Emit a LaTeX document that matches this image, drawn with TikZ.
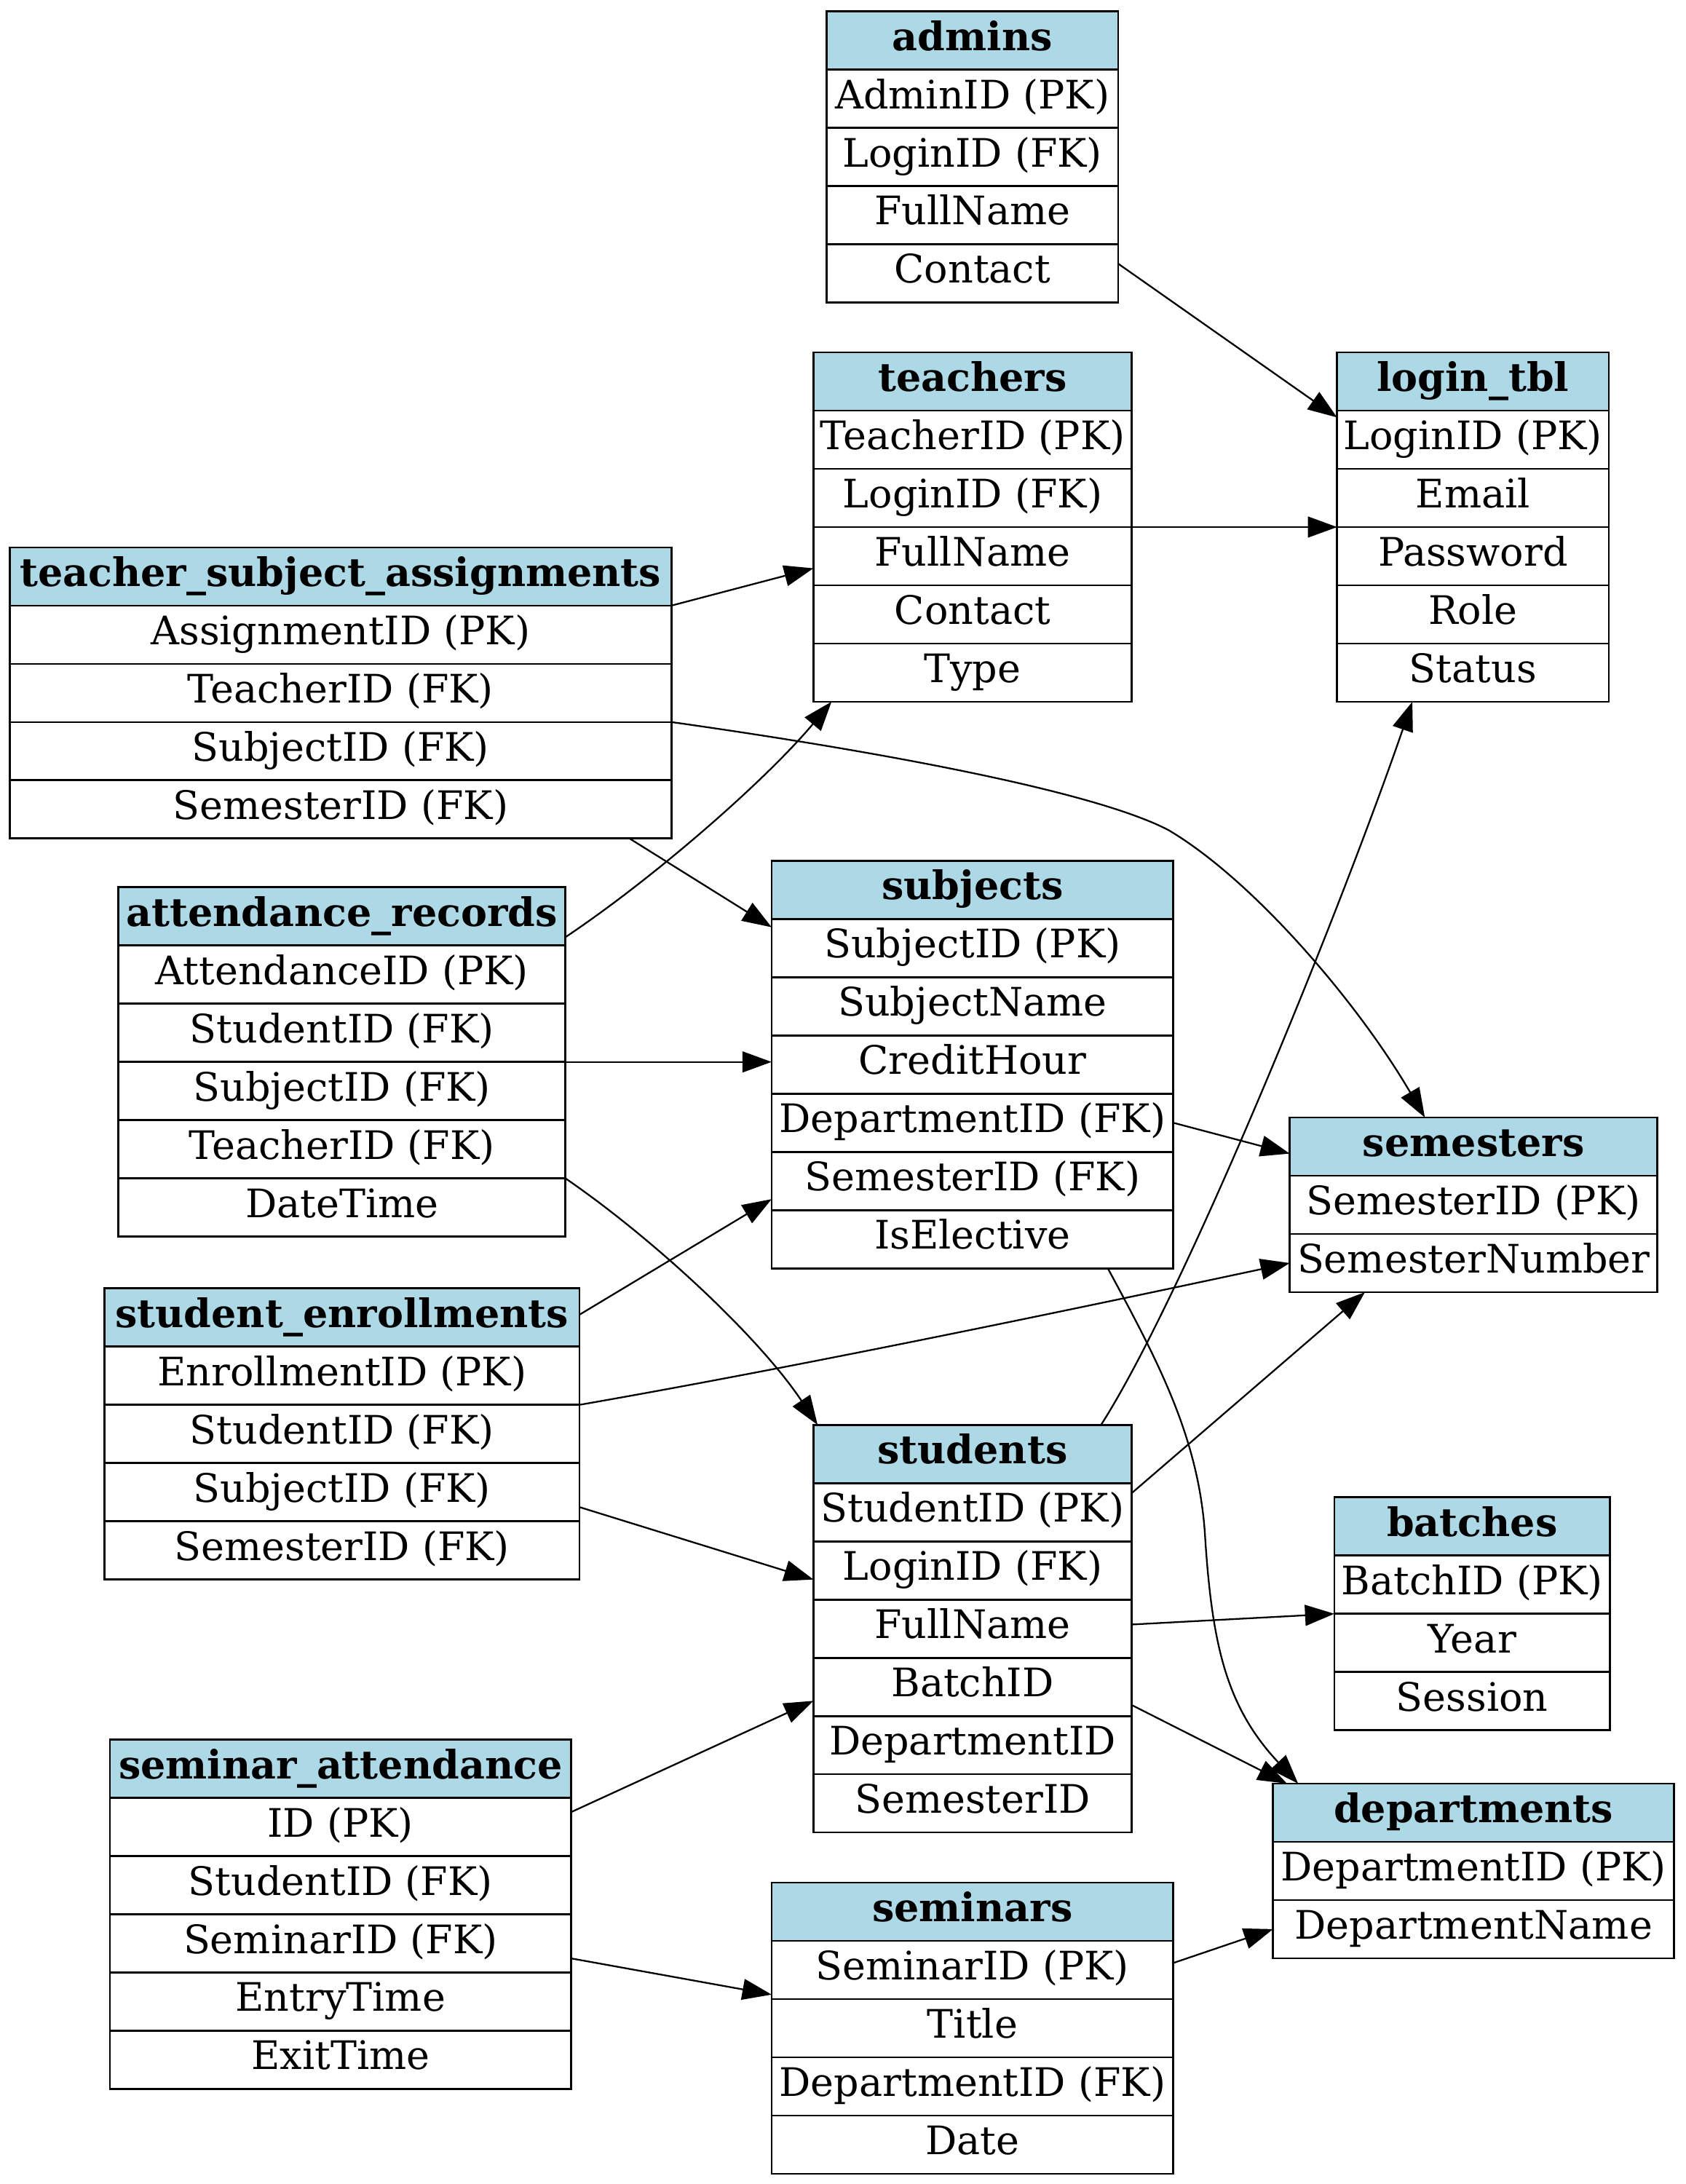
\documentclass[tikz,border=0pt]{standalone}
\usepackage{fontspec}
\setmainfont{DejaVu Serif}
\usetikzlibrary{arrows.meta,calc}
\definecolor{hdrblue}{HTML}{ADD8E6}
\newcommand\rowh{41.8}
\newcommand\ertab[6]{%
  \pgfmathsetmacro\tabw{#3-#2}%
  \node[hcell, minimum width=\tabw pt] (#1) at (#2,#4) {#5};%
  \foreach \r [count=\i] in {#6} {%
    \node[cell, minimum width=\tabw pt] (#1-\i) at (#2,{#4+\i*\rowh}) {\r};%
  }%
}
\tikzset{
  cell/.style={draw, line width=1.4pt, minimum height=41.8pt, inner sep=0pt, outer sep=0pt,
    anchor=north west, font=\fontsize{28.2}{33}\selectfont, text height=20.3pt, text depth=6.3pt},
  hcell/.style={cell, fill=hdrblue, font=\fontsize{28.2}{33}\selectfont\bfseries},
  fk/.style={draw, line width=1.2pt, -{Triangle[length=21pt,width=15pt]}}
}
\begin{document}
\begin{tikzpicture}[x=1pt,y=-1pt]
\useasboundingbox (0,0) rectangle (1210,1568);
\ertab{admins}{593.5}{802.8}{8.2}{admins}{AdminID (PK),LoginID (FK),FullName,Contact}
\ertab{teachers}{584}{812.5}{253}{teachers}{TeacherID (PK),LoginID (FK),FullName,Contact,Type}
\ertab{login}{960}{1155}{253}{login\_tbl}{LoginID (PK),Email,Password,Role,Status}
\ertab{tsa}{7}{482}{393}{teacher\_subject\_assignments}{AssignmentID (PK),TeacherID (FK),SubjectID (FK),SemesterID (FK)}
\ertab{subjects}{554}{842.4}{618}{subjects}{SubjectID (PK),SubjectName,CreditHour,DepartmentID (FK),SemesterID (FK),IsElective}
\ertab{att}{85}{406}{637}{attendance\_records}{AttendanceID (PK),StudentID (FK),SubjectID (FK),TeacherID (FK),DateTime}
\ertab{semesters}{926}{1190}{802.3}{semesters}{SemesterID (PK),SemesterNumber}
\ertab{se}{75}{416}{925}{student\_enrollments}{EnrollmentID (PK),StudentID (FK),SubjectID (FK),SemesterID (FK)}
\ertab{students}{584}{812.5}{1023}{students}{StudentID (PK),LoginID (FK),FullName,BatchID,DepartmentID,SemesterID}
\ertab{batches}{958}{1156}{1075}{batches}{BatchID (PK),Year,Session}
\ertab{departments}{914}{1202}{1280.5}{departments}{DepartmentID (PK),DepartmentName}
\ertab{sa}{79}{410}{1249}{seminar\_attendance}{ID (PK),StudentID (FK),SeminarID (FK),EntryTime,ExitTime}
\ertab{seminars}{554}{842.4}{1351.6}{seminars}{SeminarID (PK),Title,DepartmentID (FK),Date}

\draw[fk] ($(admins-4.east)+(0,-7)$) -- ($(login-1.west)+(0,-16)$);
\draw[fk] (teachers-2.south east) -- (login-2.south west);
\draw[fk] (tsa.south east) -- ($(teachers-3.west)+(0,8.7)$);
\draw[fk] (tsa-2.south east) .. controls (600,535) and (780,565) .. (839,596)
   .. controls (900,632) and (975,720) .. ($(semesters.north west)+(97,0)$);
\draw[fk] ($(tsa-4.south east)+(-30,0)$) -- ($(subjects-1.west)+(0,-15)$);
\draw[fk] ($(att.south east)+(0,-6)$) .. controls (470,630) and (550,560) .. ($(teachers-5.south west)+(13,0)$);
\draw[fk] (att-2.south east) -- (subjects-3.west |- att-2.south east);
\draw[fk] (att-4.south east) .. controls (470,890) and (545,960) .. ($(students.north west)+(3,0)$);
\draw[fk] ($(se.east)+(0,-2)$) -- ($(subjects-5.west)+(0,13)$);
\draw[fk] (se-1.south east) .. controls (580,980) and (780,938) .. (semesters-2.west);
\draw[fk] ($(se-3.east)+(0,10.7)$) -- ($(students-2.west)+(0,6.5)$);
\draw[fk] ($(students.north east)+(-22,0)$) .. controls (850,930) and (960,660) .. ($(login-5.south west)+(54,0)$);
\draw[fk] ($(students-1.east)+(0,-13.7)$) -- ($(semesters-2.south west)+(54,0)$);
\draw[fk] ($(subjects-6.south east)+(-47,0)$) .. controls (830,975) and (860,1030) .. (865,1100)
   .. controls (870,1180) and (880,1225) .. ($(departments.north west)+(18,0)$);
\draw[fk] (subjects-4.east) -- ($(semesters.west)+(0,5)$);
\draw[fk] ($(students-3.east)+(0,-3)$) -- (batches-1.south west);
\draw[fk] ($(students-4.east)+(0,13)$) -- ($(departments.north west)+(10,0)$);
\draw[fk] ($(sa-1.east)+(0,-10.7)$) -- ($(students-4.west)+(0,10)$);
\draw[fk] ($(sa-3.east)+(0,10.7)$) -- ($(seminars-1.west)+(0,17.7)$);
\draw[fk] ($(seminars-1.east)+(0,-5)$) -- (departments-2.west);
\end{tikzpicture}
\end{document}
